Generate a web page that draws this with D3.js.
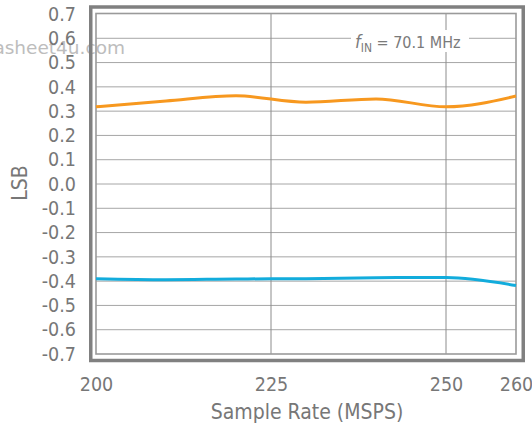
<!DOCTYPE html>
<html><head><meta charset="utf-8">
<script src="https://cdn.jsdelivr.net/npm/d3@7"></script>
<style>
html,body{margin:0;padding:0;background:#fff;}
svg{display:block;}
text{font-family:'DejaVu Sans Condensed','DejaVu Sans',sans-serif;}
</style></head>
<body><svg id="c" width="532" height="432"></svg>
<script>
const sampleRates = [200, 210, 220, 230, 240, 250, 260];
const upperLSB = [0.318, 0.342, 0.363, 0.337, 0.350, 0.318, 0.362];
const lowerLSB = [-0.390, -0.394, -0.391, -0.390, -0.386, -0.385, -0.418];
const xTicks = [200, 225, 250, 260];
const yTicks = [0.7, 0.6, 0.5, 0.4, 0.3, 0.2, 0.1, 0.0, -0.1, -0.2, -0.3, -0.4, -0.5, -0.6, -0.7];
const yTickLabels = ["0.7","0.6","0.5","0.4","0.3","0.2","0.1","0.0","-0.1","-0.2","-0.3","-0.4","-0.5","-0.6","-0.7"];
const xGrid = [225, 250];
const yGrid = [0.6, 0.5, 0.4, 0.3, 0.2, 0.1, 0.0, -0.1, -0.2, -0.3, -0.4, -0.5, -0.6];

const svg = d3.select("#c");
const L = 96, R = 516, T = 14, B = 354;
const x = d3.scaleLinear().domain([200, 260]).range([L, R]);
const y = d3.scaleLinear().domain([-0.7, 0.7]).range([B, T]);

// watermark
svg.append("text").attr("x", 125).attr("y", 54).attr("text-anchor", "end")
  .style("font-family", "'DejaVu Sans',sans-serif").style("font-size", "18.5px")
  .attr("fill", "#bdbdbd").text("datasheet4u.com");

// gridlines
svg.append("g").selectAll("line").data(yGrid).join("line")
  .attr("x1", L).attr("x2", R).attr("y1", d => y(d)).attr("y2", d => y(d))
  .attr("stroke", "#a6a6a6").attr("stroke-width", 1);
svg.append("g").selectAll("line").data(xGrid).join("line")
  .attr("y1", T).attr("y2", B).attr("x1", d => x(d)).attr("x2", d => x(d))
  .attr("stroke", "#8c8c8c").attr("stroke-width", 1);

// inner frame
svg.append("rect").attr("x", L).attr("y", T - 0.5).attr("width", R - L).attr("height", B - T + 0.5)
  .attr("fill", "none").attr("stroke", "#9a9a9a").attr("stroke-width", 1.6);
// outer frame
svg.append("rect").attr("x", 90.75).attr("y", 7).attr("width", 432.5).attr("height", 353.5)
  .attr("fill", "none").attr("stroke", "#808080").attr("stroke-width", 3.5);

// annotation
svg.append("rect").attr("x", 351).attr("y", 30).attr("width", 118).attr("height", 22).attr("fill", "#fff");
const ann = svg.append("text").attr("x", 355).attr("y", 48).attr("fill", "#7a7a7a").style("font-size", "16px");
ann.append("tspan").style("font-style", "italic").style("font-size", "18px").text("f");
ann.append("tspan").attr("dy", 4).style("font-size", "12px").text("IN");
ann.append("tspan").attr("dy", -4).text(" = 70.1 MHz");

// lines
const line = d3.line().x((d, i) => x(sampleRates[i])).y(d => y(d)).curve(d3.curveMonotoneX);
svg.append("path").datum(upperLSB).attr("d", line).attr("fill", "none")
  .attr("stroke", "#f7981f").attr("stroke-width", 3);
svg.append("path").datum(lowerLSB).attr("d", line).attr("fill", "none")
  .attr("stroke", "#12acdc").attr("stroke-width", 3);

// axes
const yAxis = svg.append("g").attr("transform", `translate(${L},0)`)
  .call(d3.axisLeft(y).tickValues(yTicks).tickSize(0).tickPadding(20)
    .tickFormat((d, i) => yTickLabels[i]));
const xAxis = svg.append("g").attr("transform", `translate(0,${B})`)
  .call(d3.axisBottom(x).tickValues(xTicks).tickSize(0).tickPadding(23).tickFormat(d3.format("d")));
[yAxis, xAxis].forEach(g => {
  g.select(".domain").remove();
  g.selectAll("text").attr("fill", "#777").style("font-size", "19.5px")
    .style("font-family", "'DejaVu Sans Condensed','DejaVu Sans',sans-serif");
});

// titles
svg.append("text").attr("x", 307).attr("y", 419).attr("text-anchor", "middle")
  .attr("fill", "#777").style("font-size", "21px").text("Sample Rate (MSPS)");
svg.append("text").attr("transform", "translate(27,183) rotate(-90)").attr("text-anchor", "middle")
  .attr("fill", "#777").style("font-size", "21px").text("LSB");
</script></body></html>
